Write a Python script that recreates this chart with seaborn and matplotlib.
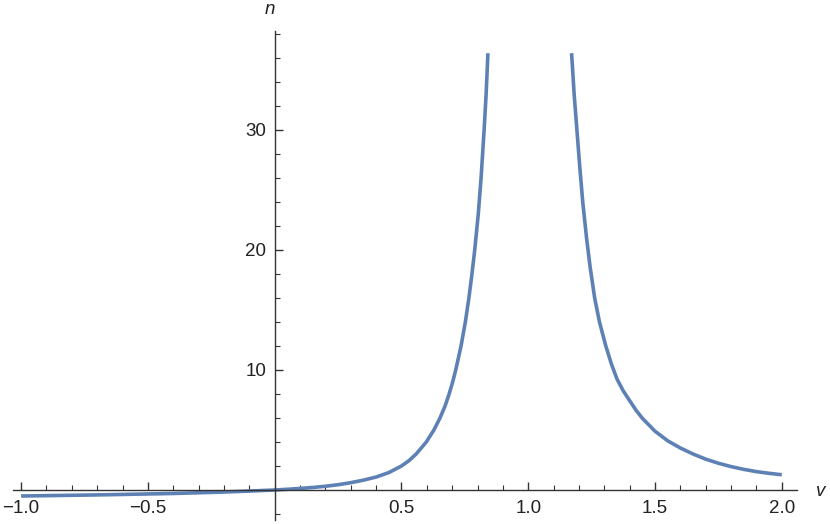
import numpy as np
import pandas as pd
import matplotlib
matplotlib.use('Agg')
import matplotlib.pyplot as plt
import matplotlib.ticker as mticker
import seaborn as sns

# ─── DATA ────────────────────────────────────────────
v_left = [-1.0, -0.9, -0.8, -0.7, -0.6, -0.5, -0.4, -0.3, -0.2, -0.1, 0.0,
          0.05, 0.1, 0.15, 0.2, 0.25, 0.3, 0.35, 0.4, 0.45, 0.5, 0.53,
          0.558, 0.598, 0.628, 0.652, 0.672, 0.688, 0.702, 0.714, 0.735,
          0.752, 0.766, 0.778, 0.789, 0.803, 0.814, 0.826, 0.834, 0.841]
n_left = [-0.50, -0.47, -0.44, -0.41, -0.37, -0.33, -0.29, -0.23, -0.17, -0.09, 0.0,
          0.06, 0.13, 0.21, 0.31, 0.44, 0.61, 0.82, 1.08, 1.45, 2.0, 2.45,
          3.0, 4.0, 5.0, 6.0, 7.0, 8.0, 9.0, 10.0, 12.0,
          14.0, 16.0, 18.0, 20.0, 23.0, 26.0, 30.0, 33.0, 36.4]

v_right = [1.171, 1.181, 1.192, 1.203, 1.215, 1.230, 1.244, 1.262, 1.281,
           1.306, 1.328, 1.350, 1.375, 1.40, 1.425, 1.45, 1.5, 1.55, 1.6,
           1.65, 1.7, 1.75, 1.8, 1.85, 1.9, 1.95, 2.0]
n_right = [36.4, 33.0, 30.0, 27.0, 24.0, 21.0, 18.6, 16.0, 14.0,
           12.0, 10.5, 9.25, 8.25, 7.45, 6.65, 5.98, 4.9, 4.1, 3.5,
           3.0, 2.57, 2.23, 1.95, 1.72, 1.53, 1.39, 1.27]

x_major = [-1.0, -0.5, 0.5, 1.0, 1.5, 2.0]
x_labels = ['\u22121.0', '\u22120.5', '0.5', '1.0', '1.5', '2.0']
y_major = [10, 20, 30]

LINE_COLOR = '#5E81B5'
AXIS_COLOR = '#333333'

# ─── STYLE ───────────────────────────────────────────
sns.set_style('white')
plt.rcParams['font.family'] = ['Liberation Sans', 'DejaVu Sans']

fig = plt.figure(figsize=(8.3, 5.24), dpi=100)
# axes box chosen so the data limits sit where the reference puts them
W, H = 830, 524
ax = fig.add_axes([13 / W, 1 - 520 / H, (797 - 13) / W, (520 - 31) / H])

left = pd.DataFrame({'v': v_left, 'n': n_left})
right = pd.DataFrame({'v': v_right, 'n': n_right})
for part in (left, right):
    sns.lineplot(data=part, x='v', y='n', ax=ax, color=LINE_COLOR,
                 linewidth=2.6, solid_joinstyle='round', solid_capstyle='butt')

ax.set_xlim(-1.032, 2.06)
ax.set_ylim(-2.5, 38.25)

# axes crossing at the origin
for side in ['top', 'right']:
    ax.spines[side].set_visible(False)
ax.spines['left'].set_position(('data', 0))
ax.spines['bottom'].set_position(('data', 0))
for side in ['left', 'bottom']:
    ax.spines[side].set_color(AXIS_COLOR)
    ax.spines[side].set_linewidth(1.0)

ax.set_xticks(x_major)
ax.set_xticklabels(x_labels)
ax.set_yticks(y_major)
ax.xaxis.set_minor_locator(mticker.MultipleLocator(0.1))
ax.yaxis.set_minor_locator(mticker.MultipleLocator(2))
ax.tick_params(axis='both', which='major', direction='in', length=6,
               width=1.0, color=AXIS_COLOR, labelsize=13.5, labelcolor='#222222')
ax.tick_params(axis='both', which='minor', direction='in', length=3.5,
               width=0.8, color=AXIS_COLOR)
ax.tick_params(axis='x', which='major', pad=7)
ax.tick_params(axis='y', which='major', pad=6)
ax.tick_params(axis='x', which='both', bottom=True, top=False)
ax.tick_params(axis='y', which='both', left=True, right=False)

ax.set_xlabel('')
ax.set_ylabel('')
ax.grid(False)

# axis names in italic at the ends of the axes
fig.text(270 / W, 1 - 10 / H, 'n', style='italic', fontsize=13.5,
         ha='center', va='center', color='#222222')
fig.text(821 / W, 1 - 492 / H, 'v', style='italic', fontsize=13.5,
         ha='center', va='center', color='#222222')

fig.savefig('out.png', dpi=100)
